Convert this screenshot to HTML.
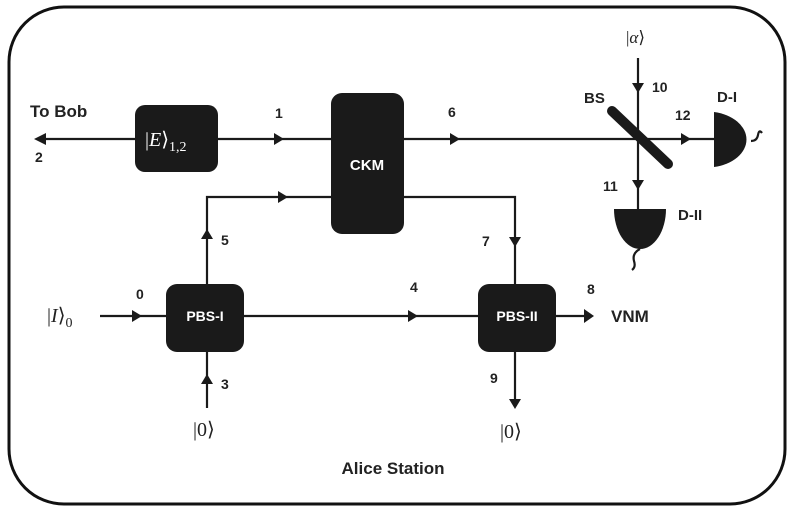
<!DOCTYPE html>
<html><head><style>
html,body{margin:0;padding:0;background:#fff;}
svg{display:block;}
text{font-family:"Liberation Sans",sans-serif;font-weight:bold;fill:#222;}
.m{font-family:"Liberation Serif","DejaVu Serif",serif;font-weight:normal;}
</style></head><body>
<svg width="793" height="511" viewBox="0 0 793 511" xmlns="http://www.w3.org/2000/svg">
<rect x="9" y="7" width="776" height="497" rx="55" fill="none" stroke="#111" stroke-width="3"/>
<g stroke="#1a1a1a" stroke-width="2.2" fill="none">
<line x1="46" y1="139" x2="135" y2="139"/>
<line x1="218" y1="139" x2="331" y2="139"/>
<line x1="404" y1="139" x2="714" y2="139"/>
<line x1="638" y1="58" x2="638" y2="210"/>
<polyline points="207,284 207,197 331,197"/>
<polyline points="404,197 515,197 515,284"/>
<line x1="100" y1="316" x2="166" y2="316"/>
<line x1="244" y1="316" x2="478" y2="316"/>
<line x1="556" y1="316" x2="585" y2="316"/>
<line x1="207" y1="352" x2="207" y2="408"/>
<line x1="515" y1="352" x2="515" y2="402"/>
<path d="M751 141 q6 0 7 -6 q1 -6 4 -2"/>
<path d="M640 249 q-8 4 -6 12 q2 6 -2 9"/>
</g>
<g fill="#1a1a1a">
<polygon points="34,139 46,133 46,145"/>
<polygon points="284,139 274,133 274,145"/>
<polygon points="460,139 450,133 450,145"/>
<polygon points="288,197 278,191 278,203"/>
<polygon points="638,93 632,83 644,83"/>
<polygon points="691,139 681,133 681,145"/>
<polygon points="638,190 632,180 644,180"/>
<polygon points="207,229 201,239 213,239"/>
<polygon points="515,247 509,237 521,237"/>
<polygon points="142,316 132,310 132,322"/>
<polygon points="418,316 408,310 408,322"/>
<polygon points="594,316 584,309 584,323"/>
<polygon points="207,374 201,384 213,384"/>
<polygon points="515,409 509,399 521,399"/>
<rect x="135" y="105" width="83" height="67" rx="10"/>
<rect x="331" y="93" width="73" height="141" rx="11"/>
<rect x="166" y="284" width="78" height="68" rx="11"/>
<rect x="478" y="284" width="78" height="68" rx="11"/>
<line x1="612" y1="111" x2="668" y2="164" stroke="#1a1a1a" stroke-width="10" stroke-linecap="round"/>
<path d="M714 112 A40 28 0 0 1 714 167 Z"/>
<path d="M614 209 L666 209 A26 40 0 0 1 614 209 Z"/>
</g>
<text x="30" y="117" font-size="17">To Bob</text>
<text x="35" y="162" font-size="14">2</text>
<text class="m" x="145" y="146" font-size="20" style="fill:#fff">|<tspan font-style="italic">E</tspan>⟩<tspan font-size="14" dy="5">1,2</tspan></text>
<text x="275" y="118" font-size="14">1</text>
<text x="367" y="170" font-size="15" text-anchor="middle" style="fill:#fff">CKM</text>
<text x="448" y="117" font-size="14">6</text>
<text class="m" x="626" y="43" font-size="17">|<tspan font-style="italic">α</tspan>⟩</text>
<text x="652" y="92" font-size="14">10</text>
<text x="584" y="103" font-size="15">BS</text>
<text x="675" y="120" font-size="14">12</text>
<text x="717" y="102" font-size="15">D-I</text>
<text x="603" y="191" font-size="14">11</text>
<text x="678" y="220" font-size="15">D-II</text>
<text x="221" y="245" font-size="14">5</text>
<text x="482" y="246" font-size="14">7</text>
<text class="m" x="47" y="322" font-size="20">|<tspan font-style="italic">I</tspan>⟩<tspan font-size="14" dy="5">0</tspan></text>
<text x="136" y="299" font-size="14">0</text>
<text x="205" y="321" font-size="14" text-anchor="middle" style="fill:#fff">PBS-I</text>
<text x="410" y="292" font-size="14">4</text>
<text x="517" y="321" font-size="14" text-anchor="middle" style="fill:#fff">PBS-II</text>
<text x="587" y="294" font-size="14">8</text>
<text x="611" y="322" font-size="17">VNM</text>
<text x="221" y="389" font-size="14">3</text>
<text x="490" y="383" font-size="14">9</text>
<text class="m" x="193" y="436" font-size="20">|0⟩</text>
<text class="m" x="500" y="438" font-size="20">|0⟩</text>
<text x="393" y="474" font-size="17" text-anchor="middle">Alice Station</text>
</svg>
</body></html>
